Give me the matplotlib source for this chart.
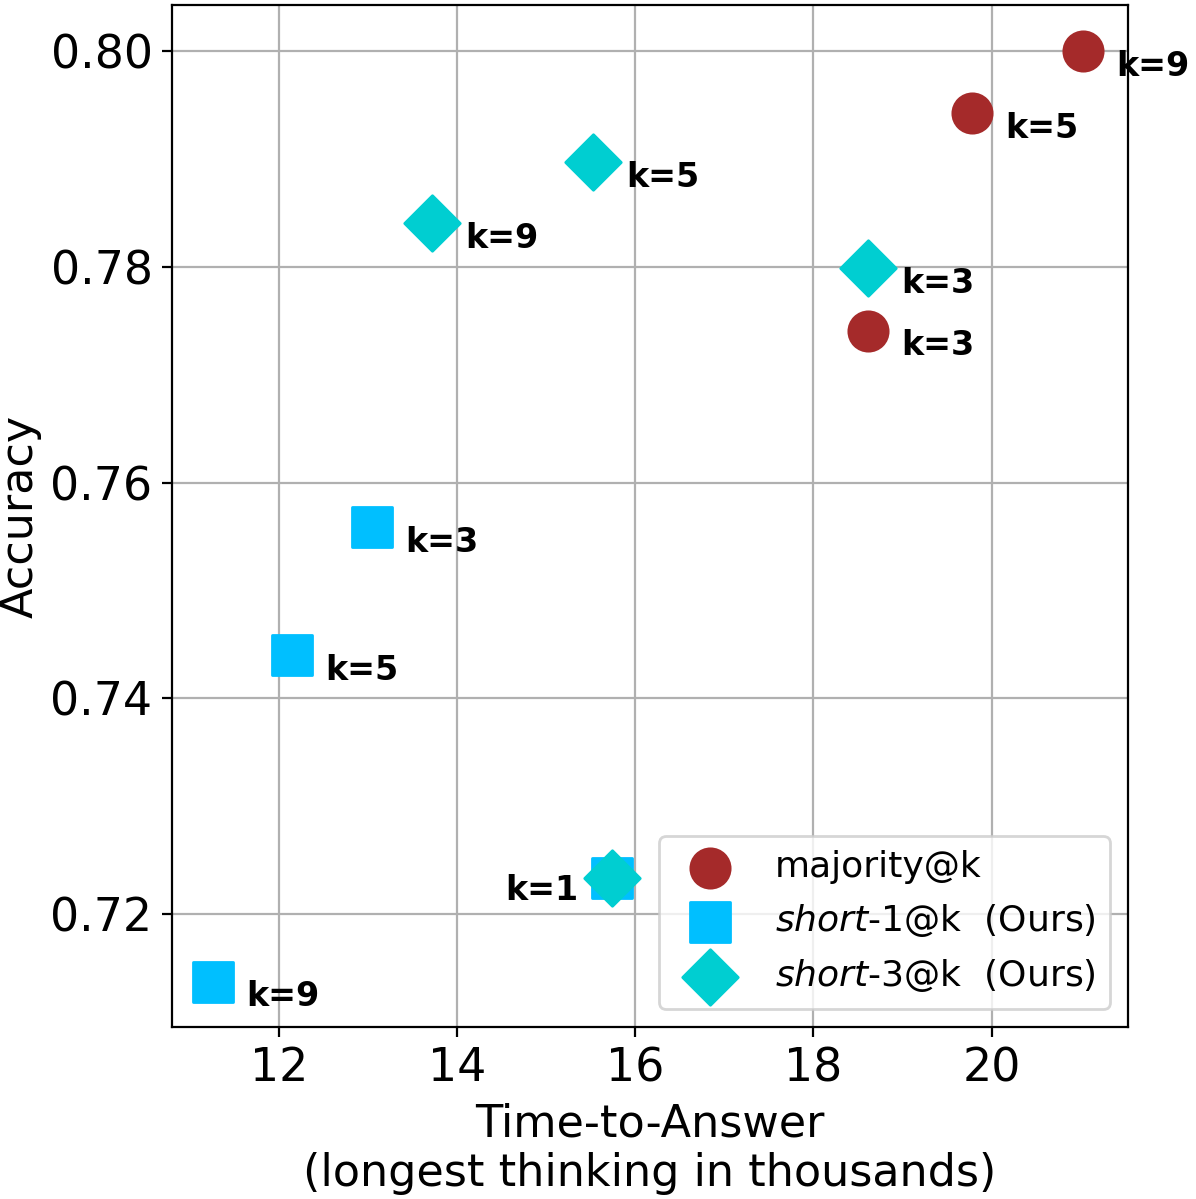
import matplotlib
matplotlib.use('Agg')
import matplotlib.pyplot as plt

# values
ks = [1, 3, 5, 9]
maj_time = [15.74, 18.61, 19.78, 21.03]
maj_acc = [0.7233, 0.7741, 0.7943, 0.8000]
s1_time = [15.74, 13.04, 12.15, 11.26]
s1_acc = [0.7233, 0.7559, 0.7440, 0.7137]
s3_time = [15.74, 18.61, 15.52, 13.72]
s3_acc = [0.7233, 0.7799, 0.7897, 0.7841]

fig, ax = plt.subplots(figsize=(5.98, 5.995), dpi=200)

series = [
    (maj_time, maj_acc, 'o', 'brown', 'majority@k'),
    (s1_time, s1_acc, 's', 'deepskyblue', r'$\it{short}$-1@k  (Ours)'),
    (s3_time, s3_acc, 'D', 'darkturquoise', r'$\it{short}$-3@k  (Ours)'),
]

for xs, ys, mk, col, lab in series:
    ax.scatter(xs, ys, marker=mk, s=200, color=col, label=lab, zorder=3)
    for k, x, y in zip(ks, xs, ys):
        if k == 1:
            if mk == 'o':
                ax.annotate('k=1', (x, y), xytext=(-12, -4.5), textcoords='offset points',
                            ha='right', va='center', fontsize=12, fontweight='bold')
            continue
        ax.annotate(f'k={k}', (x, y), xytext=(12, -5.5), textcoords='offset points',
                    ha='left', va='center', fontsize=12, fontweight='bold')

ax.set_xlim(10.8, 21.53)
ax.set_ylim(0.7095, 0.8043)
ax.set_xticks([12, 14, 16, 18, 20])
ax.set_yticks([0.72, 0.74, 0.76, 0.78, 0.80])
ax.tick_params(labelsize=16.5)
ax.grid(True, color='#b0b0b0', linewidth=0.8)
ax.set_axisbelow(True)
ax.set_xlabel('Time-to-Answer\n(longest thinking in thousands)', fontsize=16)
ax.set_ylabel('Accuracy', fontsize=16, labelpad=3)
ax.legend(loc='lower right', fontsize=13)

plt.subplots_adjust(left=0.1438, right=0.9431, top=0.9958, bottom=0.1435)
plt.savefig('out.png')
